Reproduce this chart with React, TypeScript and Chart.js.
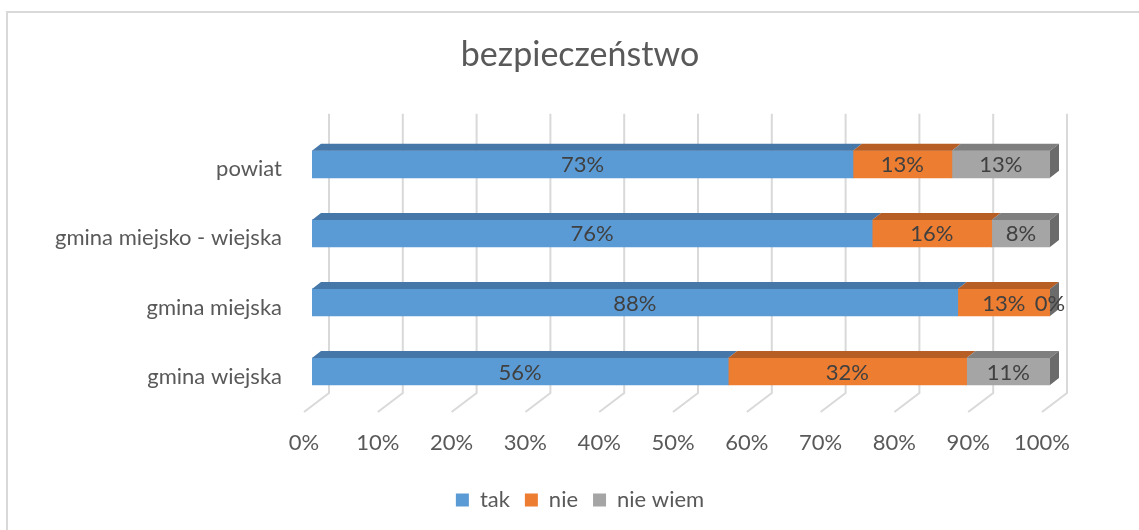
import React, { useEffect, useRef } from "react";
import { Chart, registerables } from "chart.js";

Chart.register(...registerables);

const categories = ["powiat", "gmina miejsko - wiejska", "gmina miejska", "gmina wiejska"];
const tak = [73.3, 75.9, 87.5, 56.4];
const nie = [13.4, 16.2, 12.5, 32.3];
const nieWiem = [13.3, 7.9, 0, 11.3];
const seriesNames = ["tak", "nie", "nie wiem"];
const xTickValues = [0, 10, 20, 30, 40, 50, 60, 70, 80, 90, 100];

const FRONT = ["#5B9BD5", "#ED7D31", "#A5A5A5"];
const TOP = ["#4677A9", "#B65E24", "#7F7F7F"];
const SIDE = ["#3E6A97", "#A3531F", "#6B6B6B"];
const FONT = "Lato, 'Noto Sans', sans-serif";

const DX = 9;
const DY = 7;
const CANVAS_W = 1160;

const threeD = {
  id: "threeD",
  beforeDraw(chart: any) {
    const ctx = chart.ctx;
    ctx.save();
    ctx.fillStyle = "#D9D9D9";
    ctx.fillRect(6, 11, 2, 600);
    ctx.fillRect(6, 11, 1200, 2);
    ctx.restore();
  },
  beforeDatasetsDraw(chart: any) {
    const ctx = chart.ctx;
    const xs = chart.scales.x;
    const a = chart.chartArea;
    ctx.save();
    ctx.strokeStyle = "#D9D9D9";
    ctx.lineWidth = 2;
    xTickValues.forEach((v) => {
      const px = xs.getPixelForValue(v);
      ctx.beginPath();
      ctx.moveTo(px + 17, a.top - 16);
      ctx.lineTo(px + 17, a.bottom - 13);
      ctx.lineTo(px - 8, a.bottom + 6);
      ctx.stroke();
    });
    ctx.restore();
  },
  afterDatasetsDraw(chart: any) {
    const ctx = chart.ctx;
    const n = chart.data.labels.length;
    const ds = chart.data.datasets;
    ctx.save();
    for (let i = 0; i < n; i++) {
      let endX = 0;
      let yT = 0;
      let yB = 0;
      ds.forEach((d: any, k: number) => {
        const el = chart.getDatasetMeta(k).data[i];
        const x1 = Math.min(el.base, el.x);
        const x2 = Math.max(el.base, el.x);
        yT = el.y - el.height / 2;
        yB = el.y + el.height / 2;
        endX = Math.max(endX, x2);
        if (x2 - x1 > 0) {
          ctx.fillStyle = TOP[k];
          ctx.beginPath();
          ctx.moveTo(x1, yT);
          ctx.lineTo(x2, yT);
          ctx.lineTo(x2 + DX, yT - DY);
          ctx.lineTo(x1 + DX, yT - DY);
          ctx.closePath();
          ctx.fill();
        }
      });
      const last = ds.length - 1;
      ctx.fillStyle = SIDE[last];
      ctx.beginPath();
      ctx.moveTo(endX, yT);
      ctx.lineTo(endX + DX, yT - DY);
      ctx.lineTo(endX + DX, yB - DY);
      ctx.lineTo(endX, yB);
      ctx.closePath();
      ctx.fill();
    }
    ctx.font = `22px ${FONT}`;
    ctx.fillStyle = "#404040";
    ctx.textAlign = "center";
    ctx.textBaseline = "middle";
    for (let i = 0; i < n; i++) {
      ds.forEach((d: any, k: number) => {
        const el = chart.getDatasetMeta(k).data[i];
        const cx = (el.base + el.x) / 2;
        ctx.fillText(Math.round(d.data[i]) + "%", cx, el.y + 1);
      });
    }
    ctx.restore();
  },
};

export default function App() {
  const ref = useRef<HTMLCanvasElement>(null);
  useEffect(() => {
    if (!ref.current) return;
    const series = [tak, nie, nieWiem];
    const chart = new Chart(ref.current, {
      type: "bar",
      data: {
        labels: categories,
        datasets: series.map((s, k) => ({
          label: seriesNames[k],
          data: s,
          backgroundColor: FRONT[k],
          borderWidth: 0,
          barThickness: 27,
        })),
      },
      options: {
        indexAxis: "y",
        animation: false,
        responsive: false,
        devicePixelRatio: 1,
        layout: { padding: { left: 0, right: 0, top: 0, bottom: 9 } },
        scales: {
          x: {
            stacked: true,
            min: 0,
            max: 100,
            grid: { display: false, drawTicks: false },
            border: { display: false },
            afterFit: (s: any) => {
              s.height = 68;
            },
            ticks: {
              stepSize: 10,
              padding: 24,
              labelOffset: -8,
              color: "#595959",
              font: { family: FONT, size: 22 },
              callback: (v: any) => v + "%",
            },
          },
          y: {
            stacked: true,
            grid: { display: false, drawTicks: false },
            border: { display: false },
            afterFit: (s: any) => {
              s.width = 312;
            },
            ticks: {
              padding: 30,
              labelOffset: 5,
              color: "#595959",
              font: { family: FONT, size: 22 },
            },
          },
          spacer: {
            type: "linear",
            position: "right",
            display: true,
            grid: { display: false, drawTicks: false },
            border: { display: false },
            ticks: { display: false },
            afterFit: (s: any) => {
              s.width = CANVAS_W - 1050;
            },
          },
        },
        plugins: {
          title: {
            display: true,
            text: "bezpieczeństwo",
            color: "#595959",
            font: { family: FONT, size: 34, weight: "normal" },
            padding: { top: 35, bottom: 54 },
          },
          legend: {
            display: true,
            position: "bottom",
            labels: {
              boxWidth: 13,
              boxHeight: 13,
              padding: 15,
              color: "#595959",
              font: { family: FONT, size: 22 },
            },
          },
          tooltip: { enabled: false },
        },
      },
      plugins: [threeD],
    });
    return () => chart.destroy();
  }, []);
  return (
    <div style={{ position: "fixed", left: 0, top: 0, width: 1139, height: 530, overflow: "hidden", background: "#fff" }}>
      <canvas ref={ref} width={CANVAS_W} height={530} style={{ display: "block" }} />
    </div>
  );
}
